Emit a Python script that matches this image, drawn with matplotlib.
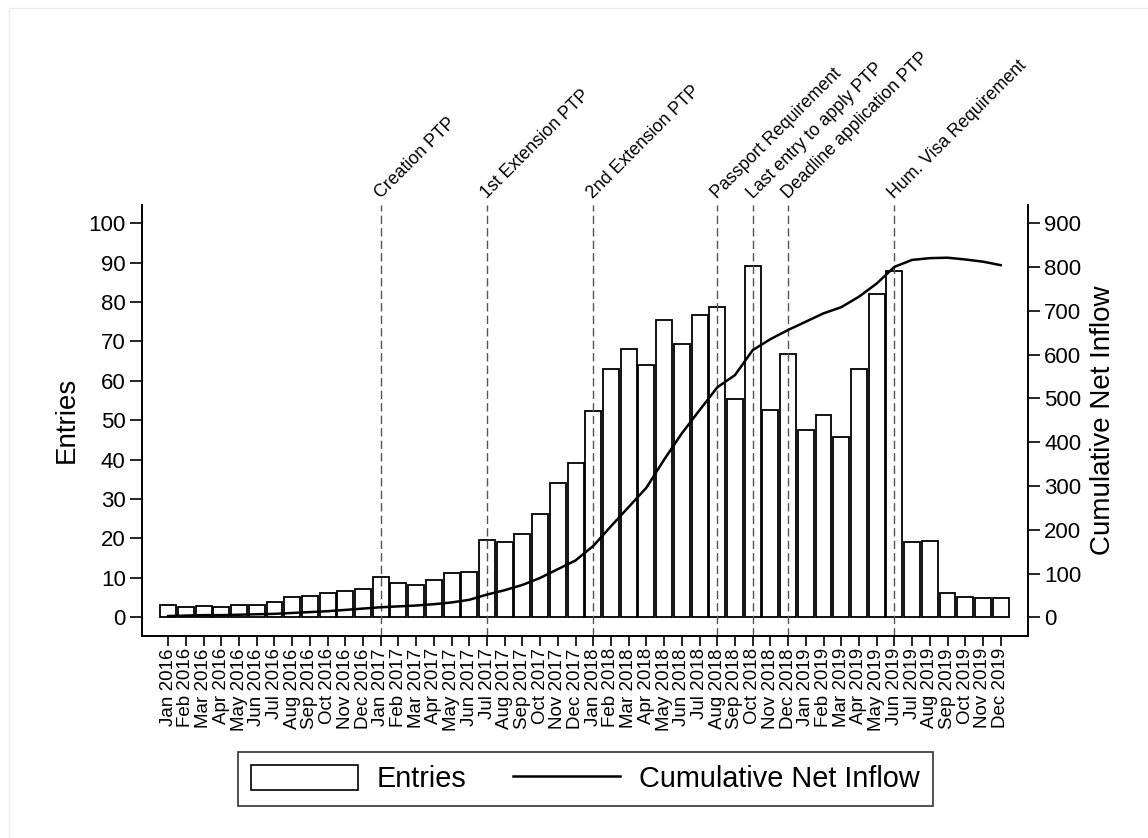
import matplotlib
matplotlib.use('Agg')
import matplotlib.pyplot as plt
from matplotlib.patches import Rectangle
from matplotlib.lines import Line2D
import numpy as np

plt.rcParams['font.family'] = ['Liberation Sans', 'DejaVu Sans']

month_names = ['Jan', 'Feb', 'Mar', 'Apr', 'May', 'Jun', 'Jul', 'Aug', 'Sep', 'Oct', 'Nov', 'Dec']
years = [2016, 2017, 2018, 2019]
labels = [m + ' ' + str(y) for y in years for m in month_names]

# monthly entries (left axis)
entries = [3.1, 2.7, 2.9, 2.7, 3.2, 3.1, 3.9, 5.1, 5.3, 6.1, 6.7, 7.2,
           10.2, 8.8, 8.3, 9.5, 11.2, 11.6, 19.5, 19.1, 21.2, 26.2, 34.2, 39.1,
           52.3, 63.1, 68.1, 63.9, 75.3, 69.3, 76.7, 78.8, 55.5, 89.0, 52.6, 66.7,
           47.5, 51.3, 45.7, 63.1, 82.1, 87.9, 19.0, 19.3, 6.2, 5.2, 4.8, 4.8]

# cumulative net inflow (right axis)
cum_inflow = [3, 4, 5, 5, 6, 7, 8, 10, 12, 14, 17, 20,
              23, 25, 27, 30, 34, 40, 52, 62, 74, 90, 110, 130,
              163, 208, 252, 296, 360, 420, 473, 525, 553, 610, 635, 656,
              675, 694, 708, 732, 762, 800, 816, 820, 821, 817, 812, 804]

# policy events: month index and label
event_idx = [12, 18, 24, 31, 33, 35, 41]
event_txt = ['Creation PTP', '1st Extension PTP', '2nd Extension PTP',
             'Passport Requirement', 'Last entry to apply PTP',
             'Deadline application PTP', 'Hum. Visa Requirement']

x = np.arange(len(entries))

fig = plt.figure(figsize=(11.48, 8.38), dpi=100)
ax = fig.add_axes([0.1234, 0.2414, 0.7723, 0.514])
ax2 = ax.twinx()

ax.bar(x, entries, width=0.9, color='white', edgecolor='black', linewidth=1.3, zorder=2)
ax2.plot(x, cum_inflow, color='black', linewidth=1.8, zorder=3)

for i, t in zip(event_idx, event_txt):
    ax.axvline(i, color='#555555', linewidth=1.0, linestyle=(0, (6, 3)), zorder=4)
    ax.text(i, 106.0, t, rotation=45, rotation_mode='anchor', ha='left', va='baseline',
            fontsize=12.8)

ax.set_xlim(-1.5, 48.56)
ax.set_ylim(-4.66, 104.6)
ax2.set_ylim(-4.66 * 9, 104.6 * 9)

ax.set_yticks(np.arange(0, 101, 10))
ax2.set_yticks(np.arange(0, 901, 100))
ax.set_xticks(x)
ax.set_xticklabels(labels, rotation=90, fontsize=13.5)

ax.tick_params(axis='y', labelsize=16, length=8.5, width=1.2, pad=3)
ax2.tick_params(axis='y', labelsize=16, length=8.5, width=1.2, pad=3)
ax.tick_params(axis='x', length=7, width=1.2, pad=2)

for a in (ax, ax2):
    a.spines['top'].set_visible(False)
    for s in ('left', 'right', 'bottom'):
        a.spines[s].set_linewidth(1.2)

ax.set_ylabel('Entries', fontsize=20, labelpad=6)
ax2.set_ylabel('Cumulative Net Inflow', fontsize=20, labelpad=6)

handles = [Rectangle((0, 0), 1, 1, facecolor='white', edgecolor='black', linewidth=1.2),
           Line2D([0], [0], color='black', linewidth=1.8)]
leg = fig.legend(handles, ['Entries', 'Cumulative Net Inflow'], ncol=2, loc='center',
                 bbox_to_anchor=(0.510, 0.0704), fontsize=20.8, frameon=True, fancybox=False,
                 handlelength=3.7, handleheight=0.95, handletextpad=0.65, columnspacing=1.6,
                 borderpad=0.45, edgecolor='black')
leg.get_frame().set_linewidth(1.2)

# faint outer border of the graph region
fig.add_artist(Rectangle((9 / 1148, -0.01), 1.0, 1 - 8 / 838 + 0.01, transform=fig.transFigure,
                         facecolor='none', edgecolor='#eeeeee', linewidth=1.0))

fig.savefig('out.png', dpi=100)
